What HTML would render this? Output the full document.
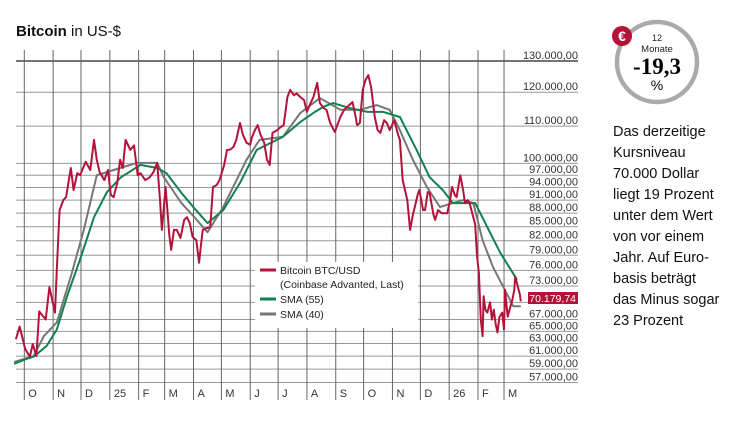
<!DOCTYPE html>
<html><head><meta charset="utf-8">
<style>
body{margin:0;background:#fff;width:750px;height:421px;overflow:hidden;font-family:"Liberation Sans",sans-serif;}
svg text{font-family:"Liberation Sans",sans-serif;}
</style></head>
<body>
<svg id="chart" width="750" height="421" viewBox="0 0 750 421" xmlns="http://www.w3.org/2000/svg">
<text x="16" y="36" font-size="15" fill="#111"><tspan font-weight="bold">Bitcoin</tspan> in US-$</text>
<g id="grid"></g>
<g id="series"></g>
<g>
<rect x="255" y="262" width="163" height="66" fill="#fff"/>
<line x1="260" y1="270" x2="276" y2="270" stroke="#b5123a" stroke-width="3"/>
<text x="280" y="274" font-size="10.5" fill="#222">Bitcoin BTC/USD</text>
<text x="280" y="288" font-size="10.5" fill="#222">(Coinbase Advanted, Last)</text>
<line x1="260" y1="299" x2="276" y2="299" stroke="#13804f" stroke-width="3"/>
<text x="280" y="303" font-size="10.5" fill="#222">SMA (55)</text>
<line x1="260" y1="314" x2="276" y2="314" stroke="#777" stroke-width="3"/>
<text x="280" y="318" font-size="10.5" fill="#222">SMA (40)</text>
</g>
<g>
<rect x="528" y="292" width="50" height="12" fill="#b5123a"/>
<text x="576" y="302" font-size="10.5" fill="#fff" text-anchor="end">70.179,74</text>
</g>
<g>
<circle cx="657" cy="62" r="40" fill="#fff" stroke="#aaa" stroke-width="4.5"/>
<circle cx="622" cy="36" r="10" fill="#b5123a"/>
<text x="622" y="41" font-size="14" font-weight="bold" fill="#fff" text-anchor="middle">€</text>
<text x="657" y="41" font-size="9" fill="#222" text-anchor="middle">12</text>
<text x="657" y="52" font-size="9.5" fill="#222" text-anchor="middle">Monate</text>
<text x="657" y="74" font-size="23" font-weight="bold" fill="#000" text-anchor="middle" font-family="Liberation Serif, serif" style="font-family:'Liberation Serif',serif">-19,3</text>
<text x="657" y="90" font-size="14" fill="#000" text-anchor="middle">%</text>
</g>
<g font-size="14.5" fill="#111">
<text x="613" y="136">Das derzeitige</text>
<text x="613" y="157">Kursniveau</text>
<text x="613" y="178">70.000 Dollar</text>
<text x="613" y="199">liegt 19 Prozent</text>
<text x="613" y="220">unter dem Wert</text>
<text x="613" y="241">von vor einem</text>
<text x="613" y="262">Jahr. Auf Euro-</text>
<text x="613" y="283">basis beträgt</text>
<text x="613" y="304">das Minus sogar</text>
<text x="613" y="325">23 Prozent</text>
</g>
</svg>
<script>
// days since 2024-10-01, values in thousand USD
const priceDays=[-9,-5,1,6,9,13,16,23,27,33,35,38,42,45,50,53,57,60,66,71,75,78,81,86,90,93,96,100,103,106,109,114,118,122,125,130,135,139,143,146,148,152,156,158,161,164,168,172,175,178,181,185,188,190,192,196,200,203,207,210,215,218,221,225,228,232,235,239,243,245,248,251,254,258,261,264,267,272,276,279,283,286,290,293,297,301,304,307,311,315,318,322,325,329,334,340,344,347,353,356,358,361,364,367,370,373,377,380,383,387,390,393,398,402,404,407,412,415,418,420,423,425,429,431,434,436,440,442,445,449,455,458,460,463,465,469,472,474,477,479,483,485,487,489,491,493,494,496,498,501,503,505,507,509,511,514,516,517,520,523,525,527,528,530,533,534];
const priceVals=[63.7,65.8,62.1,60.9,62.9,61.0,68.4,67.0,72.8,68.2,76.1,88.7,91.0,91.7,98.8,93.4,97.5,97.0,100.4,98.3,106.2,100.9,97.8,95.8,98.3,92.2,91.7,95.1,100.9,98.8,106.2,103.5,104.7,97.0,97.5,95.8,96.5,97.8,100.1,91.0,84.3,94.1,83.2,80.1,84.3,84.3,82.6,86.5,87.1,85.8,82.8,82.1,77.5,81.0,84.3,84.7,84.9,94.1,94.6,95.8,99.6,103.5,103.5,104.3,106.2,110.9,107.7,105.4,104.9,107.0,108.9,110.3,107.7,105.4,100.9,99.6,108.1,108.9,109.8,110.3,118.5,120.7,119.1,119.6,118.5,117.6,114.1,116.1,118.5,122.9,116.7,115.2,114.7,110.9,108.4,112.6,114.7,115.5,117.0,113.2,110.3,110.9,120.7,123.8,125.4,121.6,112.6,108.9,108.1,111.7,110.9,108.9,111.7,107.7,106.2,95.8,91.0,84.3,87.7,89.4,92.2,93.4,88.7,88.7,92.9,92.7,87.7,86.5,88.7,88.0,88.0,91.0,94.1,92.2,91.7,97.0,93.4,90.3,91.0,90.3,87.1,85.4,78.7,75.5,67.0,64.2,71.1,68.7,68.2,70.0,67.0,68.7,66.2,64.8,67.4,68.2,65.3,72.3,67.5,69.3,70.5,72.3,74.8,73.5,71.5,70.18];
const sma55Days=[-11,3,10,24,35,46,61,75,89,104,125,143,153,169,183,197,214,232,250,278,297,311,321,332,350,369,386,404,422,436,450,461,476,485,498,512,530];
const sma55Vals=[59.8,60.6,60.9,62.6,65.3,71.1,78.7,87.1,92.9,96.5,99.6,98.8,97.5,92.7,89.1,85.8,88.7,95.1,103.5,107.0,111.2,113.8,115.5,116.7,115.2,114.1,114.1,112.6,103.5,96.5,93.4,90.3,90.3,90.3,84.9,79.5,74.2];
const sma40Days=[-11,10,21,35,50,64,78,96,121,143,150,169,183,197,214,239,253,278,297,318,340,361,379,393,404,418,433,447,461,472,483,493,504,515,526,534];
const sma40Vals=[60.1,61.0,64.2,66.5,74.8,84.3,97.0,98.3,100.1,100.1,96.5,90.3,87.1,83.8,89.4,100.9,106.2,107.0,113.8,118.2,114.7,114.7,116.1,114.7,108.9,100.9,94.1,89.4,90.3,91.0,90.3,82.1,76.7,72.9,69.3,69.3];
const yTicks=[130,120,110,100,97,94,91,88,85,82,79,76,73,70,67,65,63,61,59,57];
const yTickLabels=["130.000,00","120.000,00","110.000,00","100.000,00","97.000,00","94.000,00","91.000,00","88.000,00","85.000,00","82.000,00","79.000,00","76.000,00","73.000,00","","67.000,00","65.000,00","63.000,00","61.000,00","59.000,00","57.000,00"];
const monthStarts=[0,31,61,92,123,151,182,212,243,273,304,335,365,396,426,457,488,516];
const monthLabels=["O","N","D","25","F","M","A","M","J","J","A","S","O","N","D","26","F","M"];

const NS="http://www.w3.org/2000/svg";
const X0=24.3, PXD=0.9297;
function xs(d){return X0+d*PXD;}
function ys(v){return 61+390*Math.log(130/v);}
function mk(tag,attrs,parent){const e=document.createElementNS(NS,tag);for(const k in attrs)e.setAttribute(k,attrs[k]);parent.appendChild(e);return e;}
const grid=document.getElementById('grid');
yTicks.forEach((t,i)=>{
  const y=ys(t);
  const l=mk('line',{x1:16,x2:578,y1:y,y2:y,stroke:i===0?'#222':'#999','stroke-width':i===0?1.3:1},grid);
  
  
  if(yTickLabels[i]){
    const tx=mk('text',{x:578,y:y-2,'font-size':11,'text-anchor':'end',fill:'#333'},grid);
    tx.textContent=yTickLabels[i];
    
    
  }
});
monthStarts.forEach((d,i)=>{
  const x=xs(d);
  const l=mk('line',{x1:x,x2:x,y1:50,y2:400,stroke:'#666','stroke-width':1},grid);
  
  
  const tx=mk('text',{x:x+4,y:397,'font-size':11,fill:'#333'},grid);
  tx.textContent=monthLabels[i];
  
  
});
const ser=document.getElementById('series');
function line(days,vals,color,name){
  const pts=days.map((d,i)=>xs(d).toFixed(1)+','+ys(vals[i]).toFixed(1)).join(' ');
  const p=mk('polyline',{points:pts,fill:'none',stroke:color,'stroke-width':2,'stroke-linejoin':'round'},ser);
  
  
}
line(sma40Days,sma40Vals,'#777','sma-40-line');
line(sma55Days,sma55Vals,'#13804f','sma-55-line');
line(priceDays,priceVals,'#b5123a','bitcoin-price-line');
</script>
</body></html>
